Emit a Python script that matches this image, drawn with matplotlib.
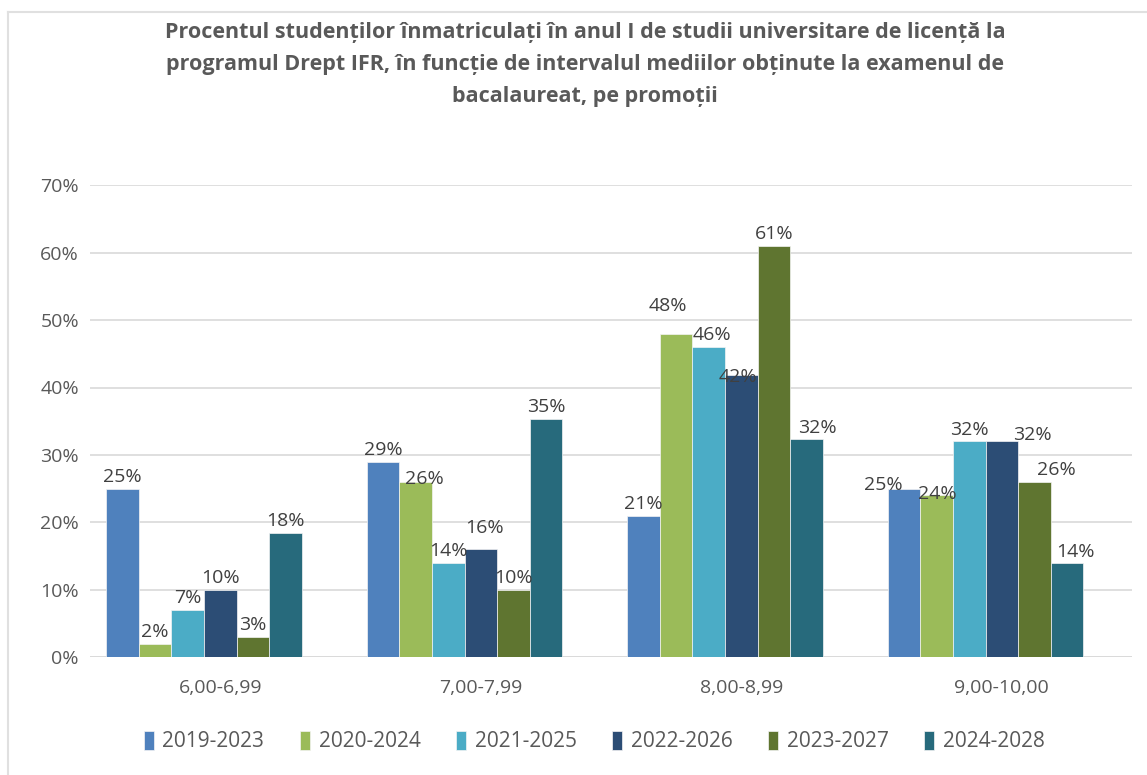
import numpy as np
import matplotlib.pyplot as plt
from matplotlib.lines import Line2D

plt.rcParams['font.family'] = ['Open Sans', 'DejaVu Sans']

categories = ['6,00-6,99', '7,00-7,99', '8,00-8,99', '9,00-10,00']
series = ['2019-2023', '2020-2024', '2021-2025', '2022-2026', '2023-2027', '2024-2028']
values = [
    [25, 29, 21, 25],
    [2, 26, 48, 24],
    [7, 14, 46, 32],
    [10, 16, 41.8, 32],
    [3, 10, 61, 26],
    [18.4, 35.3, 32.3, 13.9],
]
colors = ['#4F81BD', '#9BBB59', '#4BACC6', '#2C4D75', '#5F7530', '#276A7C']
title = ('Procentul studenților înmatriculați în anul I de studii universitare de licență la\n'
         'programul Drept IFR, în funcție de intervalul mediilor obținute la examenul de\n'
         'bacalaureat, pe promoții')

# label nudges (series, category) -> (dx, dy) in pixels, like excel's overlap shuffling
nudge = {(1, 1): (9, -9), (3, 1): (4, 10),
         (1, 2): (-8, 16), (2, 2): (3, 0), (3, 2): (-3, -13), (5, 2): (11, 0),
         (0, 3): (-21, -8), (1, 3): (1, -10), (3, 3): (31, -5), (4, 3): (22, 0),
         (5, 3): (8, 0)}

fig = plt.figure(figsize=(11.47, 7.75), dpi=100)
ax = fig.add_axes([0.0785, 0.152, 0.9085, 0.609])

x = np.arange(len(categories))
w = 0.125
for i, (name, vals) in enumerate(zip(series, values)):
    # 7 slots per group, last one empty (so bars sit a bit left of the tick)
    pos = x + (i - 3) * w
    bars = ax.bar(pos, vals, w, color=colors[i], label=name, zorder=3,
                  edgecolor='#f4f4f4', linewidth=0.5)
    for j, (b, v) in enumerate(zip(bars, vals)):
        dx, dy = nudge.get((i, j), (0, 0))
        ax.annotate('%d%%' % round(v), (b.get_x() + b.get_width() / 2, v),
                    xytext=(dx * 0.72, 2 + dy * 0.72), textcoords='offset points',
                    ha='center', va='bottom', fontsize=14, color='#404040', zorder=4)

ax.set_xlim(-0.5, 3.5)
ax.set_ylim(0, 70)
ax.set_yticks(np.arange(0, 71, 10))
ax.set_yticklabels(['%d%%' % t for t in range(0, 71, 10)])
ax.set_xticks(x)
ax.set_xticklabels(categories)
ax.grid(axis='y', color='#d9d9d9', linewidth=1.2, zorder=0)
for s in ax.spines.values():
    s.set_visible(False)
ax.axhline(0, color='#d9d9d9', linewidth=1.2, zorder=2)
ax.tick_params(axis='both', length=0, labelsize=14, labelcolor='#595959')
ax.tick_params(axis='y', pad=8)
ax.tick_params(axis='x', pad=16)

fig.text(0.51, 0.971, title, ha='center', va='top', fontsize=15.5, fontweight='bold',
         color='#595959', linespacing=1.67)

fig.legend(loc='lower center', bbox_to_anchor=(0.518, 0.005), ncol=6, frameon=False,
           fontsize=15, labelcolor='#595959', handlelength=0.5, handleheight=1.0,
           handletextpad=0.4, columnspacing=1.7)

fig.add_artist(Line2D([0.007, 0.007], [0, 0.985], color='#e0e0e0', linewidth=1.5))
fig.add_artist(Line2D([0.007, 1], [0.985, 0.985], color='#e0e0e0', linewidth=1.5))

fig.savefig('out.png', dpi=100)
